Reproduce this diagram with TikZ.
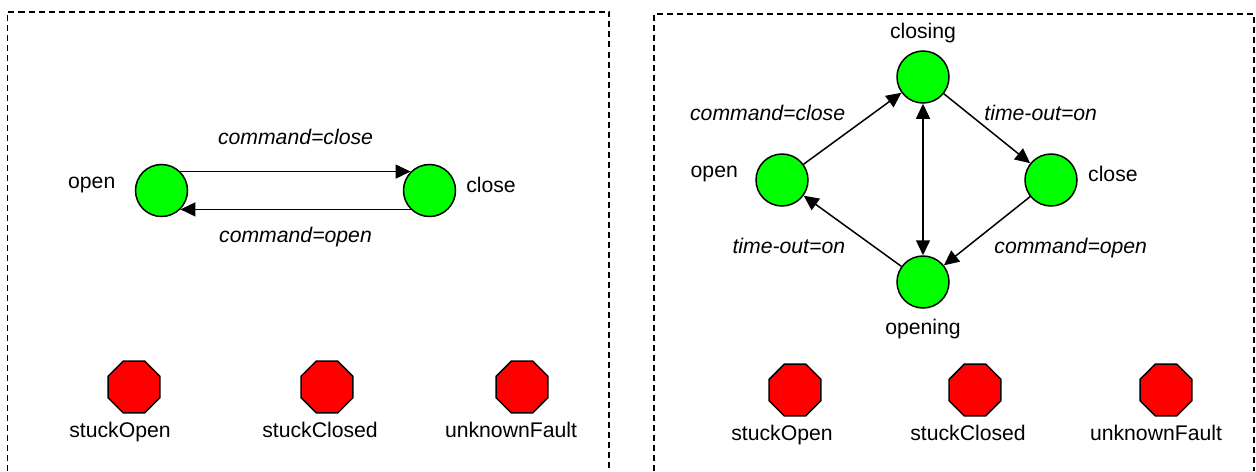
\documentclass[tikz,border=0pt]{standalone}
\usepackage{fontspec}
\setmainfont{Liberation Sans}
\usetikzlibrary{arrows.meta,automata,shapes.geometric}

\tikzset{
  okstate/.style={state,fill=green,minimum size=26pt,inner sep=0pt},
  faultstate/.style={regular polygon,regular polygon sides=8,draw,fill=red,
    minimum size=28pt,inner sep=0pt},
  panelframe/.style={draw,-,line width=0.7pt,dash pattern=on 3pt off 2pt}
}

\begin{document}
\begin{tikzpicture}[->,>={Triangle[length=7.5pt,width=7pt]},auto,line width=0.75pt,
  x=0.5pt,y=-0.5pt,font=\fontsize{10.6}{12.7}\selectfont]

  \useasboundingbox (0,0) rectangle (1256,471);

  % the two panels, open at the bottom
  \draw[panelframe] (7.5,471) -- (7.5,12) -- (609,12) -- (609,471);
  \draw[panelframe] (654,471) -- (654,14) -- (1254,14) -- (1254,471);

  % simple valve
  \node[okstate] (open1) at (161.5,190.5)
    [label={[name=open1L,label distance=6pt,yshift=3pt]left:open}] {};
  \node[okstate] (close1) [right of=open1,node distance=134pt,
    label={[name=close1L,label distance=1.3pt,yshift=3pt]right:close}] {};

  \node[faultstate] (stuckOpen1) at (134,387)
    [label={[name=stuckOpen1L,label distance=0.5pt,xshift=-7pt]below:stuckOpen}] {};
  \node[faultstate] (stuckClosed1) [right of=stuckOpen1,node distance=96.5pt,
    label={[name=stuckClosed1L,label distance=0.5pt,xshift=-3.5pt]below:stuckClosed}] {};
  \node[faultstate] (unknownFault1) [right of=stuckClosed1,node distance=97.5pt,
    label={[name=unknownFault1L,label distance=0.5pt,xshift=-5.5pt]below:unknownFault}] {};

  \path (open1.45)   edge node[above=9.5pt] {\itshape command=close} (close1.135)
        (close1.-135) edge node[below=5pt]  {\itshape command=open}  (open1.-45);

  % valve with travel states
  \node[okstate] (closing) at (923,77)
    [label={[name=closingL,label distance=0pt]above:closing}] {};
  \node[okstate] (open2) at (782,180)
    [label={[name=open2L,label distance=5pt,yshift=3pt]left:open}] {};
  \node[okstate] (close2) at (1051,180)
    [label={[name=close2L,label distance=1.5pt,yshift=3pt]right:close}] {};
  \node[okstate] (opening) at (923,282)
    [label={[name=openingL,label distance=1.5pt]below:opening}] {};

  \node[faultstate] (stuckOpen2) at (795,390)
    [label={[name=stuckOpen2L,label distance=0.5pt,xshift=-6.5pt]below:stuckOpen}] {};
  \node[faultstate] (stuckClosed2) [right of=stuckOpen2,node distance=90pt,
    label={[name=stuckClosed2L,label distance=0.5pt,xshift=-3.5pt]below:stuckClosed}] {};
  \node[faultstate] (unknownFault2) [right of=stuckClosed2,node distance=95.5pt,
    label={[name=unknownFault2L,label distance=0.5pt,xshift=-5pt]below:unknownFault}] {};

  \path (open2)   edge node {\itshape command=close} (closing)
        (closing) edge node[xshift=-5pt] {\itshape time-out=on} (close2)
                  edge [<->] (opening)
        (close2)  edge node {\itshape command=open} (opening)
        (opening) edge node {\itshape time-out=on} (open2);
\end{tikzpicture}
\end{document}
